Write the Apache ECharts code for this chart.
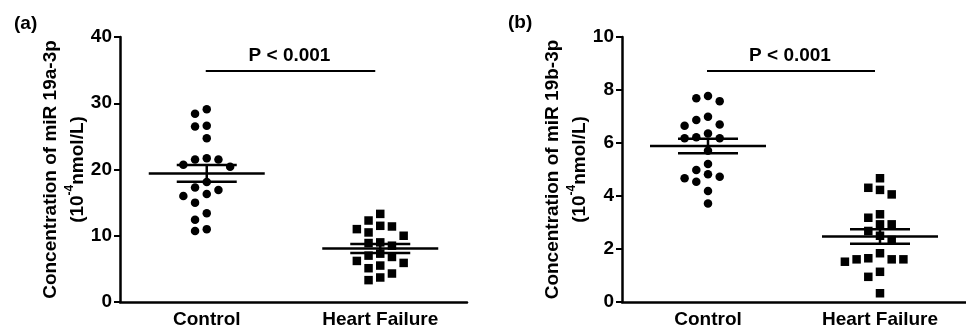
<!DOCTYPE html>
<html><head><meta charset="utf-8">
<script src="https://cdn.jsdelivr.net/npm/echarts@6/dist/echarts.min.js"></script>
<style>html,body{margin:0;padding:0;background:#fff}#c{width:966px;height:333px}</style>
</head><body><div id="c"></div>
<script>
// ---- data ----
const categories = ['Control', 'Heart Failure'];
const panelLabels = ['(a)', '(b)'];
const yNames = ['Concentration of miR 19a-3p', 'Concentration of miR 19b-3p'];
const yUnitParts = ['(10', '-4', 'nmol/L)'];
const yMax = [40, 10];
const yInterval = [10, 2];
const pText = 'P < 0.001';

const aControl = [28.4, 29.1, 26.5, 26.6, 24.7, 21.7, 21.5, 21.5, 20.4, 20.7, 18.1, 17.3, 16.9, 16.0, 16.3, 15.0, 13.4, 12.4, 10.7, 11.0];
const aHeartFailure = [13.3, 12.3, 11.4, 11.5, 11.0, 10.5, 10.0, 9.0, 8.9, 8.5, 7.3, 7.0, 6.8, 5.9, 5.5, 5.1, 4.3, 3.7, 3.3, 6.2];
const bControl = [7.69, 7.58, 7.77, 6.99, 6.87, 6.65, 6.70, 6.36, 6.18, 6.18, 6.22, 5.71, 5.21, 4.98, 4.82, 4.54, 4.67, 4.73, 4.19, 3.72];
const bHeartFailure = [4.67, 4.23, 4.31, 4.06, 3.18, 3.31, 2.93, 2.93, 2.68, 2.50, 2.34, 1.65, 1.61, 1.52, 1.61, 1.61, 1.84, 1.14, 0.95, 0.33];

// ---- layout ----
const FONT = '"Liberation Sans", Arial, sans-serif';
const gridTop = 37, gridH = 265;
const grids = [{left: 120, top: gridTop, width: 347, height: gridH}, {left: 622, top: gridTop, width: 346, height: gridH}];
const panels = [[aControl, aHeartFailure], [bControl, bHeartFailure]];

function meanSem(arr) {
  const n = arr.length;
  const m = arr.reduce((s, v) => s + v, 0) / n;
  const sd = Math.sqrt(arr.reduce((s, v) => s + (v - m) * (v - m), 0) / (n - 1));
  return [m, sd / Math.sqrt(n)];
}
function swarm(values, pxPerUnit, colW, minD) {
  const idx = values.map((v, i) => i).sort((a, b) => values[b] - values[a]);
  const placed = []; const off = new Array(values.length).fill(0);
  const order = [0, -1, 1, -2, 2, -3, 3, -4, 4];
  idx.forEach(i => {
    const y = values[i] * pxPerUnit;
    for (const k of order) {
      if (placed.every(p => p.k !== k || Math.abs(p.y - y) >= minD)) { placed.push({k, y}); off[i] = k * colW; break; }
    }
  });
  return off;
}

const series = [], xAxes = [], yAxes = [], graphics = [];
panels.forEach((groups, pi) => {
  const pxPerUnit = gridH / yMax[pi];
  xAxes.push({
    type: 'category', gridIndex: pi, data: categories, boundaryGap: true,
    axisLine: {lineStyle: {color: '#000', width: 2.5}},
    axisTick: {alignWithLabel: true, length: 5, lineStyle: {color: '#000', width: 2.5}},
    axisLabel: {color: '#000', fontFamily: FONT, fontWeight: 'bold', fontSize: 19, margin: 8},
    splitLine: {show: false}
  });
  yAxes.push({
    type: 'value', gridIndex: pi, min: 0, max: yMax[pi], interval: yInterval[pi],
    axisLine: {show: true, lineStyle: {color: '#000', width: 2.5}},
    axisTick: {show: true, length: 6, lineStyle: {color: '#000', width: 2}},
    axisLabel: {color: '#000', fontFamily: FONT, fontWeight: 'bold', fontSize: 19, margin: 8},
    splitLine: {show: false},
    name: '{t|' + yNames[pi] + '}\n{t|' + yUnitParts[0] + '}{s|' + yUnitParts[1] + '}{t|' + yUnitParts[2] + '}',
    nameLocation: 'middle', nameGap: 28,
    nameTextStyle: {
      color: '#000', fontFamily: FONT, fontWeight: 'bold', fontSize: 19, align: 'center',
      rich: {
        t: {fontFamily: FONT, fontWeight: 'bold', fontSize: 19, lineHeight: 27, color: '#000'},
        s: {fontFamily: FONT, fontWeight: 'bold', fontSize: 12, lineHeight: 27, verticalAlign: 'top', color: '#000'}
      }
    }
  });
  groups.forEach((vals, gi) => {
    const offs = swarm(vals, pxPerUnit, 11.7, 10);
    series.push({
      type: 'scatter', xAxisIndex: pi, yAxisIndex: pi,
      symbol: gi === 0 ? 'circle' : 'rect', symbolSize: 8.5,
      itemStyle: {color: '#000', opacity: 1},
      emphasis: {disabled: true},
      data: vals.map((v, i) => ({value: [gi, v], symbolOffset: [offs[i], 0]})),
      z: 3
    });
  });
  series.push({
    type: 'custom', xAxisIndex: pi, yAxisIndex: pi, z: 4,
    data: groups.map((vals, gi) => { const ms = meanSem(vals); return [gi, ms[0], ms[1]]; }),
    renderItem: function (params, api) {
      const c = api.value(0), m = api.value(1), se = api.value(2);
      const pm = api.coord([c, m]), ph = api.coord([c, m + se]), pl = api.coord([c, m - se]);
      const st = {stroke: '#000', lineWidth: 2.5};
      return {type: 'group', children: [
        {type: 'line', shape: {x1: pm[0] - 58, y1: pm[1], x2: pm[0] + 58, y2: pm[1]}, style: st},
        {type: 'line', shape: {x1: ph[0] - 30, y1: ph[1], x2: ph[0] + 30, y2: ph[1]}, style: st},
        {type: 'line', shape: {x1: pl[0] - 30, y1: pl[1], x2: pl[0] + 30, y2: pl[1]}, style: st},
        {type: 'line', shape: {x1: pm[0], y1: ph[1], x2: pm[0], y2: pl[1]}, style: st}
      ]};
    }
  });
  series.push({
    type: 'custom', xAxisIndex: pi, yAxisIndex: pi, z: 4,
    data: [[0, yMax[pi]]],
    renderItem: function (params, api) {
      const p0 = api.coord([0, yMax[pi]]), p1 = api.coord([1, yMax[pi]]);
      const ly = p0[1] + 34;
      return {type: 'group', children: [
        {type: 'line', shape: {x1: p0[0] - 1, y1: ly, x2: p1[0] - 5, y2: ly}, style: {stroke: '#000', lineWidth: 2}},
        {type: 'text', style: {text: pText, x: (p0[0] + p1[0]) / 2 - 4, y: ly - 15, align: 'center', verticalAlign: 'middle',
          fill: '#000', fontFamily: FONT, fontWeight: 'bold', fontSize: 19}}
      ]};
    }
  });
});

graphics.push({type: 'text', left: 14, top: 14, style: {text: panelLabels[0], fill: '#000', font: 'bold 19px ' + FONT}});
graphics.push({type: 'text', left: 508, top: 13, style: {text: panelLabels[1], fill: '#000', font: 'bold 19px ' + FONT}});

const chart = echarts.init(document.getElementById('c'), null, {renderer: 'canvas'});
chart.setOption({
  animation: false,
  backgroundColor: '#fff',
  grid: grids,
  xAxis: xAxes,
  yAxis: yAxes,
  series: series,
  graphic: graphics
});
</script>
</body></html>
